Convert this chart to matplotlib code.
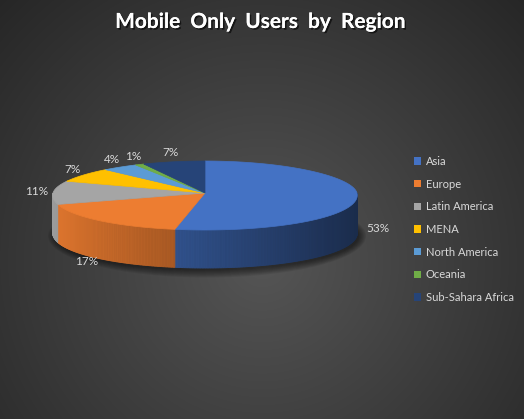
import numpy as np
import matplotlib
matplotlib.use("Agg")
import matplotlib.pyplot as plt
from matplotlib.patches import Polygon, Patch, Ellipse
import matplotlib.patheffects as pe

regions = ["Asia", "Europe", "Latin America", "MENA", "North America", "Oceania", "Sub-Sahara Africa"]
shares = [53, 17, 11, 7, 4, 1, 7]
colors = ["#4472C4", "#ED7D31", "#A5A5A5", "#FFC000", "#5B9BD5", "#70AD47", "#264478"]

W, H = 524, 419
fig = plt.figure(figsize=(W / 100, H / 100), dpi=100)
ax = fig.add_axes([0, 0, 1, 1])
ax.set_xlim(0, W)
ax.set_ylim(H, 0)
ax.axis("off")

# radial background
yy, xx = np.mgrid[0:H, 0:W]
r = np.sqrt(((xx - 262) / 300.0) ** 2 + ((yy - 260) / 300.0) ** 2)
g = np.clip(0.335 - 0.15 * r, 0.15, 0.34)
ax.imshow(np.dstack([g, g, g]), extent=(0, W, H, 0), zorder=0, aspect="auto")

# pie geometry (screen pixels), slight perspective: front half bigger
cx, cy, rx, ry_back, ry_front, depth = 205, 193, 152, 32, 37, 38


def pt(th, dy=0):
    c = np.cos(th)
    k = 1 - 0.06 * c
    ry = ry_back if c > 0 else ry_front
    return cx + rx * np.sin(th) * k, cy - ry * c + dy


# soft shadow under the pie
for k in range(8):
    ax.add_patch(Ellipse((cx + 2, cy + depth + 5), 2 * rx + 14 - 2 * k, ry_back + ry_front + 14 - 2 * k,
                         color="black", alpha=0.07, lw=0, zorder=1))

frac = np.array(shares) / sum(shares)
bounds = np.concatenate([[0], np.cumsum(frac)]) * 2 * np.pi

# front sides
for i in range(len(shares)):
    a0, a1 = bounds[i], bounds[i + 1]
    lo, hi = max(a0, np.pi / 2), min(a1, 3 * np.pi / 2)
    if hi <= lo:
        continue
    base = np.array(matplotlib.colors.to_rgb(colors[i]))
    ts = np.linspace(lo, hi, max(3, int((hi - lo) / 0.01)))
    for t0, t1 in zip(ts[:-1], ts[1:]):
        f = np.clip(0.66 - 0.28 * np.sin((t0 + t1) / 2), 0.35, 1.0)
        c = np.clip(base * f, 0, 1)
        x0, y0 = pt(t0)
        x1, y1 = pt(t1)
        ax.add_patch(Polygon([(x0, y0), (x1, y1), (x1, y1 + depth), (x0, y0 + depth)],
                             closed=True, fc=c, ec=c, lw=0.6, zorder=2))

# top faces
for i in range(len(shares)):
    ts = np.linspace(bounds[i], bounds[i + 1], 200)
    pts = [(cx, cy)] + [pt(t) for t in ts]
    ax.add_patch(Polygon(pts, closed=True, fc=colors[i], ec=colors[i], lw=0.5, zorder=3))

# percentage labels, pushed outward from the rim
for i, v in enumerate(shares):
    th = (bounds[i] + bounds[i + 1]) / 2
    s, c = np.sin(th), np.cos(th)
    front = c < 0
    ex, ey = pt(th, depth * 0.8 if front else 0)
    txt = f"{v}%"
    w = 5.8 * len(txt)
    lx = ex + s * (w / 2 + (12 if front else 8))
    ly = ey - c * (5.5 + (8 if front else 4))
    ax.text(lx, ly, txt, color="#d9d9d9", fontsize=8.5, family="Lato",
            ha="center", va="center", zorder=4)

# title
ax.text(261, 22, "Mobile  Only  Users  by  Region", color="white", fontsize=15,
        family="Lato", weight="bold", ha="center", va="center", zorder=5,
        path_effects=[pe.withSimplePatchShadow(offset=(1.2, -1.2), shadow_rgbFace="black", alpha=0.6),
                      pe.Normal()])

handles = [Patch(facecolor=c, edgecolor="none") for c in colors]
leg = fig.legend(handles, regions, loc="upper left", bbox_to_anchor=(404 / W, 1 - 146 / H),
                 frameon=False, labelcolor="#d9d9d9",
                 handlelength=0.65, handleheight=0.65, handletextpad=0.4, labelspacing=1.05,
                 prop={"family": "Lato", "size": 8})

fig.savefig("out.png", dpi=100, facecolor="#2a2a2a")
